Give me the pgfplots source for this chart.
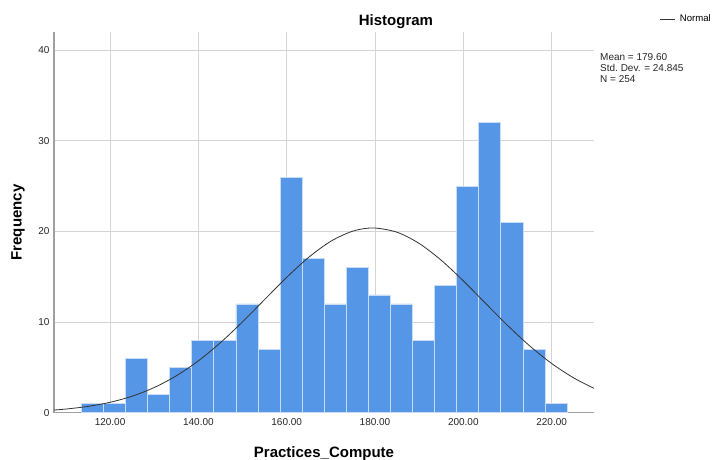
\documentclass[border=0pt]{standalone}
\usepackage{pgfplots}
\pgfplotsset{compat=1.18}
\usepackage{fontspec}
\setmainfont{Liberation Sans}
\definecolor{barblue}{RGB}{85,150,230}
\definecolor{baredge}{RGB}{200,220,245}
\definecolor{gridgray}{RGB}{212,212,212}
\definecolor{axisgray}{RGB}{160,160,160}
\begin{document}
\begin{tikzpicture}[x=1pt,y=1pt]
\useasboundingbox (-54,-46.3) rectangle (658,412.7);
\begin{axis}[
  scale only axis,
  width=540pt, height=380.5pt,
  at={(0,0)}, anchor=origin,
  xmin=107.3, xmax=229.6,
  ymin=0, ymax=42,
  axis lines*=left,
  axis line style={axisgray, line width=1.5pt},
  xtick={120,140,160,180,200,220},
  xticklabels={120.00,140.00,160.00,180.00,200.00,220.00},
  ytick={0,10,20,30,40},
  major tick length=0pt,
  grid=major,
  major grid style={gridgray, line width=0.9pt},
  tick label style={font=\fontsize{10}{12}\selectfont, text=black!85},
  /pgf/number format/assume math mode=true,
  xticklabel style={yshift=-2pt},
  yticklabel style={xshift=-1pt},
  xlabel={\textbf{Practices\_Compute}},
  ylabel={\textbf{Frequency}},
  xlabel style={font=\fontsize{15}{18}\selectfont, at={(axis description cs:0.5,0)}, anchor=center, yshift=-40.5pt},
  ylabel style={font=\fontsize{15}{18}\selectfont, at={(axis description cs:0,0.5)}, anchor=center, yshift=36pt},
  title={\textbf{Histogram}},
  title style={font=\fontsize{15}{18}\selectfont, at={(axis description cs:0.6333,1)}, anchor=center, yshift=4.2pt},
  clip mode=individual,
  legend style={at={(1.122,1.0347)}, anchor=west, draw=none, fill=none,
    font=\fontsize{9.6}{12}\selectfont, inner sep=0pt,
    nodes={inner sep=0pt}},
  legend image code/.code={\draw[#1] (0pt,0pt) -- (15pt,0pt);},
  legend cell align=left,
]
\addplot[ybar interval, fill=barblue, draw=baredge, line width=0.8pt, forget plot] coordinates {
(113.5,1) (118.5,1) (123.5,6) (128.5,2) (133.5,5) (138.5,8) (143.5,8) (148.5,12)
(153.5,7) (158.5,26) (163.5,17) (168.5,12) (173.5,16) (178.5,13) (183.5,12)
(188.5,8) (193.5,14) (198.5,25) (203.5,32) (208.5,21) (213.5,7) (218.5,1) (223.5,1)
};
\addplot[black!80, line width=0.8pt, smooth] coordinates {
(107.3,0.296) (110,0.403) (115,0.694) (120,1.148) (125,1.823) (130,2.780)
(135,4.072) (140,5.726) (145,7.733) (150,10.029) (155,12.491) (160,14.940)
(165,17.159) (170,18.926) (175,20.046) (179.6,20.393) (185,19.917)
(190,18.682) (195,16.829) (200,14.557) (205,12.093) (210,9.646)
(215,7.390) (220,5.437) (225,3.840) (229.6,2.692)
};
\addlegendentry{\hspace{4pt}Normal}
\node[anchor=north west, inner sep=0pt, align=left, font=\fontsize{10}{11}\selectfont, text=black!85]
  at (axis description cs:1.0111,0.9434) {Mean = 179.60\\Std.\ Dev. = 24.845\\N = 254};
\end{axis}
\end{tikzpicture}
\end{document}
